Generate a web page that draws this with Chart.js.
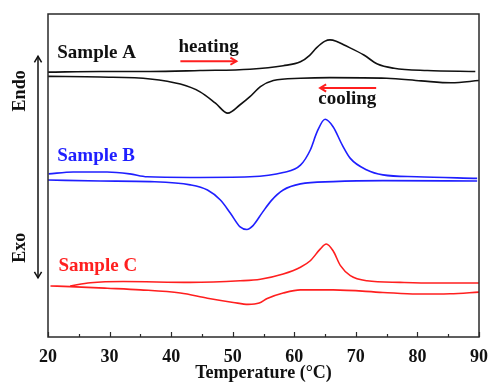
<!DOCTYPE html>
<html>
<head>
<meta charset="utf-8">
<script src="https://cdn.jsdelivr.net/npm/chart.js@4/dist/chart.umd.min.js"></script>
<style>
  html, body { margin: 0; padding: 0; background: #fff; }
</style>
</head>
<body>
<canvas id="dsc" width="488" height="382"></canvas>
<script>
// ── DSC traces: [temperature °C, heat flow (a.u.)] ───────────────────────
const xMin = 20, xMax = 90, xStep = 10;

const aHeating = [[20,82.0],[28.5,82.2],[36.6,82.2],[44.7,82.5],[52.8,82.9],[58.2,84.0],[61,85.2],[62.5,87.2],[63.6,89.5],[65,91.6],[65.8,92.0],[66.8,91.6],[68.1,90.4],[71.3,87.3],[73.5,84.5],[76.2,83.2],[81.6,82.5],[89.4,82.2]];
const aCooling = [[20,80.7],[28.5,80.5],[36.6,79.9],[41.5,78.3],[44.7,75.9],[47.2,72.4],[49.2,69.3],[51.2,71.9],[52.8,74.4],[54.5,77.5],[56.6,79.4],[61,80.1],[65.8,80.3],[75,80.1],[80.6,79.3],[85.5,78.7],[90,79.4]];

const bHeating = [[20.1,50.5],[24.1,51.1],[29.6,51.1],[33.3,50.5],[36.1,49.6],[43.1,49.4],[52.8,49.6],[58.2,50.9],[61,53.2],[62.6,57.9],[63.7,63.5],[65,67.4],[66.3,65.1],[67.8,59.4],[69.1,55.3],[71.8,51.7],[74.4,50.2],[79.9,49.6],[89.7,49.1]];
const bCooling = [[20,48.6],[28.5,48.3],[36.6,48.1],[43.1,47.1],[45.9,45.5],[48,42.4],[49.6,38.4],[51.2,34.1],[52.3,33.3],[53.3,34.5],[54.8,38.5],[56.3,42.3],[58.2,45.5],[61,47.4],[66.3,48.1],[74.4,48.4],[89.7,48.3]];

const cHeating = [[23.6,15.8],[26.9,16.8],[32.2,17.2],[43.1,16.9],[51.2,17.4],[54.5,17.9],[58.2,19.5],[61,21.6],[62.6,23.6],[64.2,27.2],[65.2,28.8],[66.3,26.7],[67.5,22.1],[69.1,19.0],[71.8,17.4],[77.2,16.9],[82.6,16.7],[90,16.7]];
const cCooling = [[20.4,15.8],[23.6,15.6],[29.6,15.1],[35,14.6],[41.5,13.6],[45.9,12.0],[50.1,10.7],[52.5,10.1],[54.3,10.5],[55.6,11.9],[58.2,13.6],[61,14.6],[66.3,14.6],[74.4,13.8],[79.9,13.3],[85.3,13.4],[90,13.9]];

const sampleNames = ['Sample A', 'Sample B', 'Sample C'];
const sampleColors = ['#111111', '#1f1fff', '#ff1f1f'];

const SERIF = '"Liberation Serif", "Times New Roman", serif';

// ── text labels and arrows, placed in data coordinates ───────────────────
const notes = [
    { text: sampleNames[0], at: [21.5, 87.9], color: sampleColors[0] },
    { text: sampleNames[1], at: [21.5, 56.0], color: sampleColors[1] },
    { text: sampleNames[2], at: [21.7, 22.0], color: sampleColors[2] },
    { text: 'heating',      at: [41.2, 89.6], color: '#111' },
    { text: 'cooling',      at: [63.9, 73.6], color: '#111' },
];
const arrows = [
    { from: [41.5, 85.4], to: [50.6, 85.4] },
    { from: [73.3, 77.1], to: [64.2, 77.1] },
];

function toPoints(rows) { return rows.map(([x, y]) => ({ x, y })); }

function trace(rows, color) {
    return {
        data: toPoints(rows),
        borderColor: color, borderWidth: 1.6,
        pointRadius: 0, fill: false,
        cubicInterpolationMode: 'monotone',
    };
}

function arrowHead(ctx, x, y, dx, dy, size) {
    // open chevron pointing along (dx, dy)
    const len = Math.hypot(dx, dy), ux = dx / len, uy = dy / len;
    ctx.beginPath();
    ctx.moveTo(x - ux * size - uy * size * 0.6, y - uy * size + ux * size * 0.6);
    ctx.lineTo(x, y);
    ctx.lineTo(x - ux * size + uy * size * 0.6, y - uy * size - ux * size * 0.6);
    ctx.stroke();
}

const decor = {
    id: 'decor',
    afterDraw(chart) {
        const { ctx, chartArea: a, scales: { x, y } } = chart;
        ctx.save();

        // box frame
        ctx.strokeStyle = '#2a2a2a';
        ctx.lineWidth = 1.5;
        ctx.strokeRect(a.left, a.top, a.right - a.left, a.bottom - a.top);

        // inward ticks on the temperature axis
        ctx.lineWidth = 1.2;
        for (let t = xMin; t <= xMax; t += xStep / 2) {
            const px = Math.round(x.getPixelForValue(t)) + 0.5;
            const len = t % xStep === 0 ? 5 : 3;
            ctx.beginPath();
            ctx.moveTo(px, a.bottom);
            ctx.lineTo(px, a.bottom - len);
            ctx.stroke();
        }

        // labels
        ctx.font = 'bold 19px ' + SERIF;
        ctx.textAlign = 'left';
        ctx.textBaseline = 'middle';
        notes.forEach(n => {
            ctx.fillStyle = n.color;
            ctx.fillText(n.text, x.getPixelForValue(n.at[0]), y.getPixelForValue(n.at[1]));
        });

        // heating / cooling arrows
        ctx.strokeStyle = '#ff1f1f';
        ctx.lineWidth = 2;
        arrows.forEach(ar => {
            const x0 = x.getPixelForValue(ar.from[0]), y0 = y.getPixelForValue(ar.from[1]);
            const x1 = x.getPixelForValue(ar.to[0]),   y1 = y.getPixelForValue(ar.to[1]);
            ctx.beginPath();
            ctx.moveTo(x0, y0);
            ctx.lineTo(x1, y1);
            ctx.stroke();
            arrowHead(ctx, x1, y1, x1 - x0, y1 - y0, 6);
        });

        // Endo / Exo double arrow left of the plot
        const ax = a.left - 10;
        const yTop = y.getPixelForValue(86.9), yBot = y.getPixelForValue(18.3);
        ctx.strokeStyle = '#111';
        ctx.lineWidth = 1.5;
        ctx.beginPath();
        ctx.moveTo(ax, yTop);
        ctx.lineTo(ax, yBot);
        ctx.stroke();
        arrowHead(ctx, ax, yTop, 0, -1, 6);
        arrowHead(ctx, ax, yBot, 0, 1, 6);

        ctx.fillStyle = '#111';
        ctx.font = 'bold 18px ' + SERIF;
        ctx.textAlign = 'center';
        [['Endo', 76.2], ['Exo', 27.6]].forEach(([txt, v]) => {
            ctx.save();
            ctx.translate(a.left - 28, y.getPixelForValue(v));
            ctx.rotate(-Math.PI / 2);
            ctx.fillText(txt, 0, 0);
            ctx.restore();
        });

        ctx.restore();
    },
};

const datasets = [
    trace(aHeating, sampleColors[0]), trace(aCooling, sampleColors[0]),
    trace(bHeating, sampleColors[1]), trace(bCooling, sampleColors[1]),
    trace(cHeating, sampleColors[2]), trace(cCooling, sampleColors[2]),
];

new Chart(document.getElementById('dsc').getContext('2d'), {
    type: 'line',
    data: { datasets },
    options: {
        responsive: false,
        animation: false,
        layout: { padding: { left: 48, right: 9, top: 14, bottom: 0 } },
        plugins: { legend: { display: false }, tooltip: { enabled: false } },
        scales: {
            x: {
                type: 'linear', min: xMin, max: xMax,
                grid: { display: false },
                border: { display: false },
                ticks: {
                    stepSize: xStep, padding: 2, color: '#111',
                    font: { family: SERIF, size: 18, weight: 'bold' },
                },
                title: {
                    display: true, text: 'Temperature (°C)', color: '#111',
                    font: { family: SERIF, size: 18, weight: 'bold', lineHeight: 1 },
                    padding: { top: 0, bottom: 0 },
                },
                afterFit(scale) {
                    scale.height = 45;
                    // let the "90" label hang past the frame
                    scale.paddingRight = 0;
                    scale.paddingLeft = 0;
                },
            },
            y: { display: false, min: 0, max: 100 },
        },
    },
    plugins: [decor],
});
</script>
</body>
</html>
